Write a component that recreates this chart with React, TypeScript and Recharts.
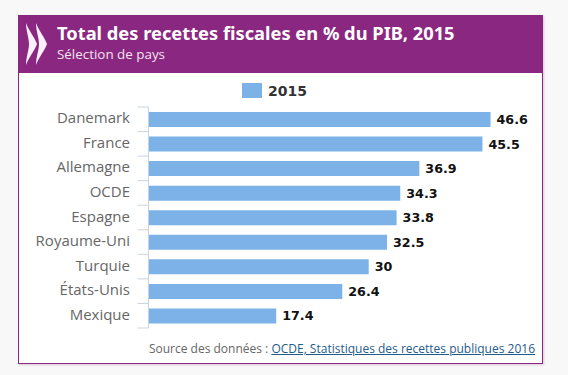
import React from "react";
import { BarChart, Bar, XAxis, YAxis, LabelList, Legend } from "recharts";

const countries = ["Danemark", "France", "Allemagne", "OCDE", "Espagne", "Royaume-Uni", "Turquie", "États-Unis", "Mexique"];
const values2015 = [46.6, 45.5, 36.9, 34.3, 33.8, 32.5, 30, 26.4, 17.4];
const seriesName = "2015";
const titleText = "Total des recettes fiscales en % du PIB, 2015";
const subtitleText = "Sélection de pays";
const sourcePrefix = "Source des données : ";
const sourceLink = "OCDE, Statistiques des recettes publiques 2016";

const data = countries.map((c, i) => ({ name: c, value: values2015[i] }));

const PURPLE = "#8a2780";
const BAR = "#7cb2e8";
const BAND = 221 / 9;
const LABEL_FONT = "'Open Sans', sans-serif";

const CategoryTick = (props: any) => {
  const { x, y, payload, index } = props;
  const stroke = "#c9d3df";
  return (
    <g>
      <line x1={x - 11} x2={x} y1={y - BAND / 2} y2={y - BAND / 2} stroke={stroke} strokeWidth={1} />
      {index === countries.length - 1 && (
        <line x1={x - 11} x2={x} y1={y + BAND / 2} y2={y + BAND / 2} stroke={stroke} strokeWidth={1} />
      )}
      <text x={x - 18.5} y={y + 4} textAnchor="end" fill="#666666" fontFamily={LABEL_FONT} fontSize={15}>
        {payload.value}
      </text>
    </g>
  );
};

const LegendContent = () => (
  <div style={{ position: "absolute", left: 242, top: 83, display: "flex", alignItems: "center", height: 15, whiteSpace: "nowrap" }}>
    <span style={{ display: "inline-block", width: 20, height: 15, background: BAR }} />
    <span style={{ marginLeft: 6, marginTop: 1, fontFamily: "'DejaVu Sans', sans-serif", fontSize: 14, fontWeight: 700, color: "#333", lineHeight: "15px" }}>{seriesName}</span>
  </div>
);

export default function App() {
  return (
    <div style={{ position: "absolute", left: 0, top: 0, width: 568, height: 375, background: "#f8f8f8", overflow: "hidden" }}>
      <div style={{ position: "absolute", left: 18, top: 15, width: 523, height: 348, background: "#fff", border: `1px solid ${PURPLE}`, borderTopWidth: 0, boxShadow: "1px 1px 2px rgba(120,60,120,0.25)" }} />
      <div style={{ position: "absolute", left: 18, top: 15, width: 525, height: 58, background: PURPLE }} />
      <svg style={{ position: "absolute", left: 25, top: 22 }} width={24} height={44}>
        <path d="M1 1 C4 9 10 16 12 22 C10 28 4 35 1 43 C1 35 4 28 4 22 C4 16 1 9 1 1 Z" fill="#fbeffa" />
        <path d="M11 1 C14 9 20 16 22 22 C20 28 14 35 11 43 C11 35 14 28 14 22 C14 16 11 9 11 1 Z" fill="#fbeffa" />
      </svg>
      <div style={{ position: "absolute", left: 57, top: 22, color: "#fff", fontFamily: "'Noto Sans', sans-serif", fontWeight: 700, fontSize: 18.3, lineHeight: "22px", whiteSpace: "nowrap" }}>{titleText}</div>
      <div style={{ position: "absolute", left: 57, top: 45, color: "#f3e4f1", fontFamily: LABEL_FONT, fontSize: 13.4, lineHeight: "18px", whiteSpace: "nowrap" }}>{subtitleText}</div>
      <div style={{ position: "absolute", left: 0, top: 0 }}>
        <BarChart width={568} height={375} data={data} layout="vertical" barCategoryGap={5} margin={{ top: 107, right: 52.5, bottom: 47, left: 0 }}>
          <XAxis type="number" domain={[0, 50]} hide />
          <YAxis type="category" dataKey="name" width={148.5} interval={0} axisLine={{ stroke: "#c9d3df" }} tickLine={false} tick={<CategoryTick />} tickMargin={0} tickSize={0} />
          <Legend content={<LegendContent />} wrapperStyle={{ position: "absolute", left: 0, top: 0, bottom: "auto", width: 0, height: 0 }} />
          <Bar dataKey="value" name={seriesName} fill={BAR} isAnimationActive={false}>
            <LabelList dataKey="value" position="right" offset={6} fill="#111" fontFamily="'DejaVu Sans', sans-serif" fontWeight={700} fontSize={12.7} />
          </Bar>
        </BarChart>
      </div>
      <div style={{ position: "absolute", right: 33, top: 341, fontFamily: LABEL_FONT, fontSize: 12, lineHeight: "16px", color: "#666", whiteSpace: "nowrap" }}>
        {sourcePrefix}
        <span style={{ color: "#1f5c8c", textDecoration: "underline" }}>{sourceLink}</span>
      </div>
    </div>
  );
}
